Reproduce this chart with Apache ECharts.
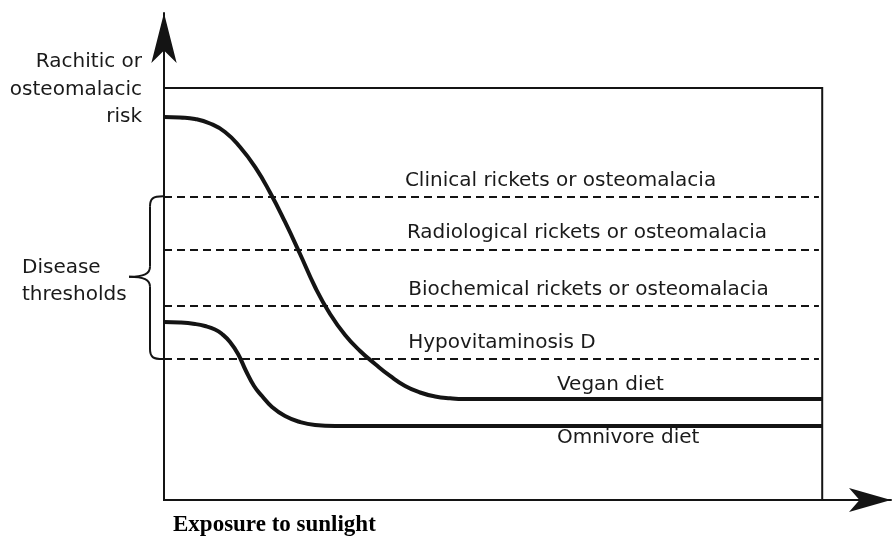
<!DOCTYPE html>
<html><head><meta charset="utf-8">
<script src="https://cdn.jsdelivr.net/npm/echarts@6/dist/echarts.min.js"></script>
<style>html,body{margin:0;padding:0;background:#fff}#c{width:893px;height:536px}</style>
</head><body><div id="c"></div>
<script>
// Risk (arbitrary units, box top = 100) vs exposure to sunlight (arbitrary units, box right = 100)
const veganDiet = [[0,92.96],[2.43,92.84],[4.71,92.48],[6.99,91.38],[9.27,89.32],[11.55,85.68],[13.83,80.83],[16.11,74.64],[18.39,67.48],[20.67,59.71],[22.95,51.70],[25.23,45.15],[27.51,40.05],[29.79,36.17],[32.07,33.01],[34.35,30.10],[36.63,27.67],[38.91,26.09],[41.19,25.12],[43.47,24.68],[45.74,24.51],[60,24.51],[80,24.51],[100,24.51]];
const omnivoreDiet = [[0,43.20],[2.43,43.08],[4.71,42.72],[6.23,42.23],[7.75,41.38],[8.81,40.29],[10.03,38.35],[11.25,35.44],[12.46,31.31],[13.68,27.67],[14.89,25.24],[16.41,22.57],[18.39,20.39],[20.67,18.93],[22.95,18.20],[25.99,17.96],[40,17.96],[60,17.96],[80,17.96],[100,17.96]];
const thresholdNames = ['Clinical rickets or osteomalacia','Radiological rickets or osteomalacia','Biochemical rickets or osteomalacia','Hypovitaminosis D'];
const thresholdLevels = [73.7, 60.8, 47.1, 34.2];
const seriesNames = ['Vegan diet','Omnivore diet'];
const yAxisTitle = ['Rachitic or','osteomalacic','risk'];
const xAxisTitle = 'Exposure to sunlight';
const bracketTitle = ['Disease','thresholds'];
const boxMax = 100;

(function(){
const INK = '#141414';
const TXT = '#1a1a1a';
const FONT = 'DejaVu Sans';
const FS = 20;

const chart = echarts.init(document.getElementById('c'), null, {renderer:'canvas'});

const labelPos = [[36.6,77.4],[36.9,64.9],[37.1,51.0],[37.1,38.1]];
const seriesLabelPos = [[59.7,27.9],[59.7,15.0]];
const annotations = thresholdNames.map((t,i)=>({value:labelPos[i], name:t}))
  .concat(seriesNames.map((t,i)=>({value:seriesLabelPos[i], name:t})));

const axisCommon = {
  type:'value', splitLine:{show:false}, axisTick:{show:false}, axisLabel:{show:false},
  axisLine:{show:true, onZero:false, symbol:['none','arrow'], lineStyle:{color:INK, width:2}}
};

chart.setOption({
  animation:false,
  backgroundColor:'#ffffff',
  grid:{left:164, right:2, top:13, bottom:36},
  xAxis:Object.assign({}, axisCommon, {min:0, max:110.45,
    axisLine:Object.assign({}, axisCommon.axisLine, {symbolSize:[18,42]})}),
  yAxis:Object.assign({}, axisCommon, {min:0, max:118.2,
    axisLine:Object.assign({}, axisCommon.axisLine, {symbolSize:[19,50]})}),
  series:[
    {name:seriesNames[0], type:'line', data:veganDiet, smooth:0.5, showSymbol:false,
      lineStyle:{color:INK, width:4}, z:5,
      markArea:{silent:true, itemStyle:{color:'rgba(0,0,0,0)', borderColor:INK, borderWidth:2},
        data:[[{coord:[0,0]},{coord:[boxMax,boxMax]}]]}},
    {name:seriesNames[1], type:'line', data:omnivoreDiet, smooth:0.5, showSymbol:false,
      lineStyle:{color:INK, width:4}, z:5,
      markLine:{silent:true, symbol:['none','none'], label:{show:false},
        lineStyle:{color:INK, width:2, type:[8,5]},
        data:thresholdLevels.map(v=>[{coord:[0,v]},{coord:[boxMax-0.5,v]}])}},
    {name:'annotations', type:'scatter', data:annotations, symbolSize:0, z:6,
      itemStyle:{opacity:1},
      label:{show:true, position:'right', distance:0, formatter:p=>p.name,
        color:TXT, fontFamily:FONT, fontSize:FS, verticalAlign:'middle'}}
  ]
});

// decorative text and bracket
const pTop = chart.convertToPixel({gridIndex:0},[0,thresholdLevels[0]]);
const pBot = chart.convertToPixel({gridIndex:0},[0,thresholdLevels[thresholdLevels.length-1]]);
const ax = pTop[0]-1, t = pTop[1], b = pBot[1], mid = (t+b)/2 - 1;
const vx = ax-13, tipx = ax-34;
const braceStyle = {fill:null, stroke:INK, lineWidth:2};
const bz = (x1,y1,c1x,c1y,c2x,c2y,x2,y2)=>({type:'bezierCurve', shape:{x1,y1,cpx1:c1x,cpy1:c1y,cpx2:c2x,cpy2:c2y,x2,y2}, style:braceStyle});
const ln = (x1,y1,x2,y2)=>({type:'line', shape:{x1,y1,x2,y2}, style:braceStyle});
const brace = [
  bz(ax,t, vx+3,t, vx,t+2, vx,t+10),
  ln(vx,t+10, vx,mid-10),
  bz(vx,mid-10, vx,mid-3, vx-6,mid, tipx,mid),
  bz(tipx,mid, vx-6,mid, vx,mid+3, vx,mid+10),
  ln(vx,mid+10, vx,b-10),
  bz(vx,b-10, vx,b-2, vx+3,b, ax,b)
];

chart.setOption({
  graphic:[
    {type:'text', style:{text:yAxisTitle.join('\n'), x:142, y:89.5, align:'right', verticalAlign:'middle',
      lineHeight:27.5, fill:TXT, font:`${FS}px "${FONT}"`}},
    {type:'text', style:{text:bracketTitle.join('\n'), x:22, y:281.5, align:'left', verticalAlign:'middle',
      lineHeight:27, fill:TXT, font:`${FS}px "${FONT}"`}},
    {type:'text', style:{text:xAxisTitle, x:173, y:525, align:'left', verticalAlign:'middle',
      fill:'#000', font:`bold 23px "Liberation Serif"`}}
  ].concat(brace)
});
})();
</script>
</body></html>
